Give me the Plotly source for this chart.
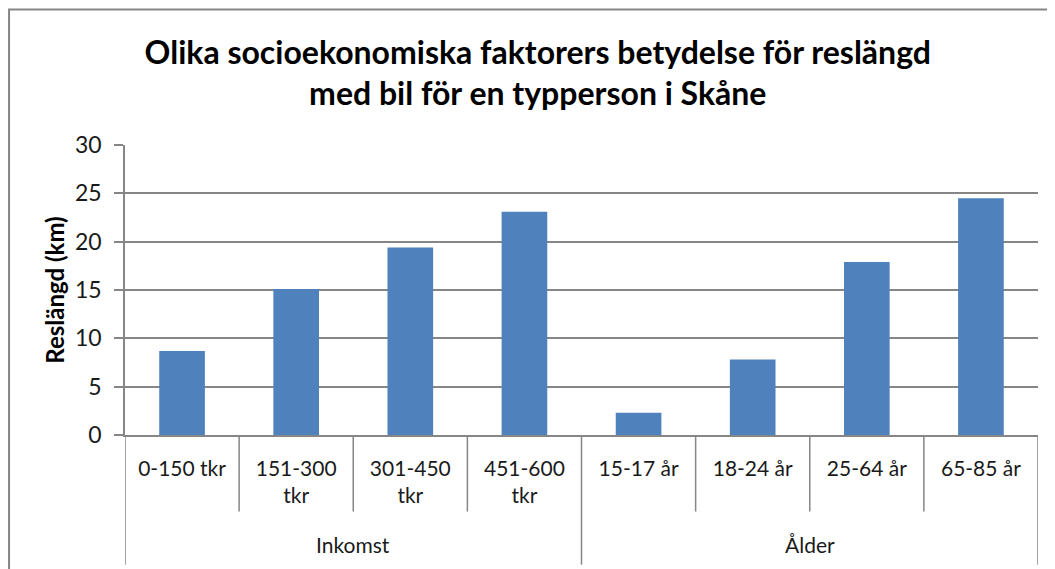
import plotly.graph_objects as go

groups = ["Inkomst", "Ålder"]
group_sizes = [4, 4]
categories = ["0-150 tkr", "151-300<br>tkr", "301-450<br>tkr", "451-600<br>tkr",
              "15-17 år", "18-24 år", "25-64 år", "65-85 år"]
values = [8.7, 15.1, 19.4, 23.1, 2.3, 7.8, 17.9, 24.5]

title_text = "Olika socioekonomiska faktorers betydelse för reslängd<br>med bil för en typperson i Skåne"
y_title = "Reslängd (km)"
y_ticks = [0, 5, 10, 15, 20, 25, 30]

FONT = "Lato"
GRAY = "#868686"
TXT = "#1a1a1a"

fig = go.Figure(go.Bar(
    x=list(range(len(categories))),
    y=values,
    marker=dict(color="#4F81BD", line=dict(width=0)),
    width=0.4,
))

fig.update_layout(
    width=1047, height=561,
    paper_bgcolor="white", plot_bgcolor="white",
    margin=dict(l=117, r=17, t=137, b=134, autoexpand=False),
    showlegend=False,
    title=dict(text="<b>" + title_text + "</b>", x=0.506, xanchor="center",
               xref="container", y=0.901, yanchor="middle", yref="container",
               font=dict(family=FONT, size=32, color="black")),
    font=dict(family=FONT, color=TXT),
)

fig.update_yaxes(
    range=[0, 30], tickvals=y_ticks,
    showgrid=True, gridcolor=GRAY, gridwidth=1.5,
    showline=True, linecolor=GRAY, linewidth=1.5,
    ticks="outside", ticklen=9, tickcolor=GRAY, tickwidth=1.5,
    ticklabelstandoff=8,
    tickfont=dict(family=FONT, size=23, color=TXT),
    title=dict(text="<b>" + y_title + "</b>", font=dict(family=FONT, size=24, color="black"), standoff=4),
    zeroline=False, automargin=False,
)

fig.update_xaxes(
    range=[-0.5, len(categories) - 0.5],
    tickvals=list(range(len(categories))), ticktext=categories,
    showline=True, linecolor=GRAY, linewidth=1.5,
    ticks="", ticklabelstandoff=14,
    tickfont=dict(family=FONT, size=21, color=TXT),
    showgrid=False, zeroline=False, automargin=False,
)

# short dividers between inner categories, long ones at group edges
inner_bottom = -0.264
outer_bottom = -0.447
boundaries = [-0.5]
for n in group_sizes:
    boundaries.append(boundaries[-1] + n)
group_edges = set(boundaries)
for k in range(len(categories) + 1):
    xb = k - 0.5
    y1 = outer_bottom if xb in group_edges else inner_bottom
    fig.add_shape(type="line", xref="x", yref="paper", x0=xb, x1=xb, y0=0, y1=y1,
                  line=dict(color=GRAY, width=1.5))

# outer group labels
for g, a, b in zip(groups, boundaries[:-1], boundaries[1:]):
    fig.add_annotation(x=(a + b) / 2, y=-0.378, xref="x", yref="paper", text=g,
                       showarrow=False, yanchor="middle",
                       font=dict(family=FONT, size=21, color=TXT))

# chart border
fig.add_shape(type="rect", xref="paper", yref="paper",
              x0=-0.127, x1=1.0164, y0=-0.5, y1=1.467,
              line=dict(color=GRAY, width=2), fillcolor="rgba(0,0,0,0)", layer="below")

fig.write_html("out.html")
